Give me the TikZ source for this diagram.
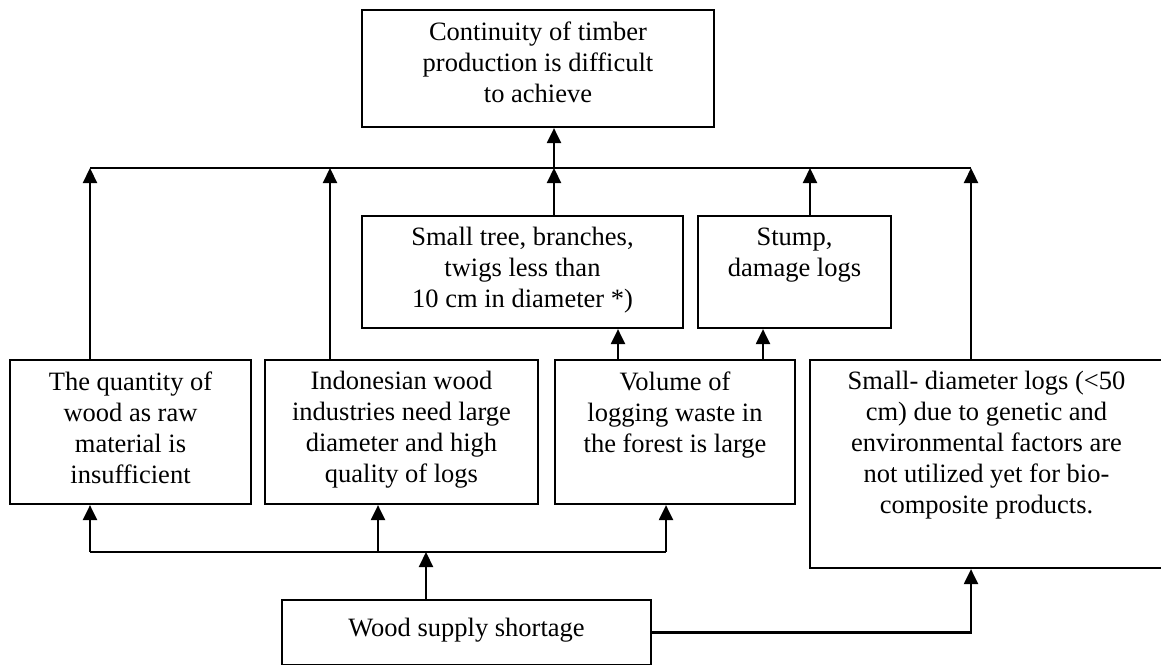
\documentclass[tikz,border=0pt]{standalone}
\usepackage{fontspec}
\setmainfont{Liberation Serif}
\usetikzlibrary{arrows.meta,calc}
\begin{document}
\begin{tikzpicture}[x=1pt,y=-1pt,
  boxnode/.style={draw, line width=2.2pt, inner sep=0pt},
  txt/.style={anchor=north, inner sep=0pt, align=center,
    font=\fontsize{26.5}{31}\selectfont, execute at begin node=\strut},
  conn/.style={line width=2.2pt},
  arr/.style={line width=2.2pt, -{Triangle[length=15pt,width=14pt]}}]
\useasboundingbox (0,0) rectangle (1161,664);
% boxes
\node[boxnode, minimum width=352, minimum height=117] (T) at (538,68.5) {};
\node[boxnode, minimum width=321, minimum height=112] (S1) at (522.5,272) {};
\node[boxnode, minimum width=193, minimum height=112] (S2) at (794.5,272) {};
\node[boxnode, minimum width=241, minimum height=144] (B1) at (130.5,432) {};
\node[boxnode, minimum width=273, minimum height=144] (B2) at (401.5,432) {};
\node[boxnode, minimum width=240, minimum height=144] (B3) at (675,432) {};
\node[boxnode, minimum width=353, minimum height=208] (B4) at (986.5,464) {};
\node[boxnode, minimum width=369, minimum height=65] (W) at (466.5,632.5) {};
% texts
\node[txt] (tT) at ($(T.north)+(0,12.8)$) {Continuity of timber\\production is difficult\\to achieve};
\node[txt] (tS1) at ($(S1.north)+(0,12.5)$) {Small tree, branches,\\twigs less than\\10 cm in diameter *)};
\node[txt] (tS2) at ($(S2.north)+(0,12.5)$) {Stump,\\damage logs};
\node[txt] (tB1) at ($(B1.north)+(0,12.5)$) {The quantity of\\wood as raw\\material is\\insufficient};
\node[txt] (tB2) at ($(B2.north)+(0,12.5)$) {Indonesian wood\\industries need large\\diameter and high\\quality of logs};
\node[txt] (tB3) at ($(B3.north)+(0,12.5)$) {Volume of\\logging waste in\\the forest is large};
\node[txt] (tB4) at ($(B4.north)+(0,12.5)$) {Small- diameter logs (<50\\cm) due to genetic and\\environmental factors are\\not utilized yet for bio-\\composite products.};
\node[txt] (tW) at ($(W.north)+(0,15.3)$) {Wood supply shortage};
% columns and rows
\coordinate (c1) at (90,0);
\coordinate (c2) at (330,0);
\coordinate (c3) at (554,0);
\coordinate (c4) at (810,0);
\coordinate (c5) at (971,0);
\coordinate (c6) at (618,0);
\coordinate (c7) at (763,0);
\coordinate (c8) at (378,0);
\coordinate (c9) at (666,0);
\coordinate (c10) at (426,0);
\coordinate (busT) at (0,168);
\coordinate (busB) at (0,552);
% upper bus
\draw[conn] (c1 |- busT) -- (c5 |- busT);
\draw[arr] (c3 |- busT) -- (T.south -| c3);
\draw[arr] (B1.north -| c1) -- (c1 |- busT);
\draw[arr] (B2.north -| c2) -- (c2 |- busT);
\draw[arr] (S1.north -| c3) -- (c3 |- busT);
\draw[arr] (S2.north -| c4) -- (c4 |- busT);
\draw[arr] (B4.north -| c5) -- (c5 |- busT);
\draw[arr] (B3.north -| c6) -- (S1.south -| c6);
\draw[arr] (B3.north -| c7) -- (S2.south -| c7);
% lower bus
\draw[conn] (c1 |- busB) -- (c9 |- busB);
\draw[arr] (c1 |- busB) -- (B1.south -| c1);
\draw[arr] (c8 |- busB) -- (B2.south -| c8);
\draw[arr] (c9 |- busB) -- (B3.south -| c9);
\draw[arr] (W.north -| c10) -- (c10 |- busB);
\draw[arr] (W.east) -- (c5 |- W.east) -- (B4.south -| c5);
\end{tikzpicture}
\end{document}
